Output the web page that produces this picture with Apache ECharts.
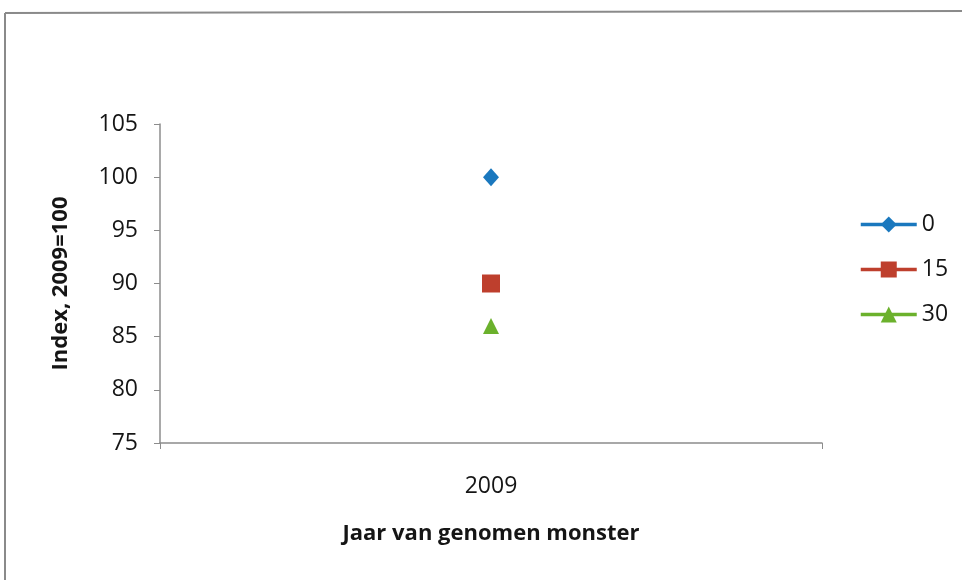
<!DOCTYPE html>
<html>
<head>
<meta charset="utf-8">
<script src="https://cdn.jsdelivr.net/npm/echarts@6/dist/echarts.min.js"></script>
<style>
  html, body { margin: 0; padding: 0; background: #fff; }
  #chart { width: 962px; height: 580px; }
</style>
</head>
<body>
<div id="chart"></div>
<script>
// Sample year on the category axis
const years = ['2009'];
// Index values per series (2009 = 100)
const seriesNames = ['0', '15', '30'];
const values0 = [100];
const values15 = [90];
const values30 = [86];
// Value axis range and step
const yMin = 75;
const yMax = 105;
const yStep = 5;

const FONT = '"Open Sans", "Noto Sans", sans-serif';
const TEXT = '#151515';
const colors = ['#1a78be', '#be3f2d', '#6bb12c'];
const symbols = ['diamond', 'rect', 'triangle'];
const symbolSizes = [[16, 18], 18, 16];
const valueLists = [values0, values15, values30];

const chart = echarts.init(document.getElementById('chart'), null, { renderer: 'canvas' });

chart.setOption({
  backgroundColor: '#ffffff',
  animation: false,
  color: colors,
  textStyle: { fontFamily: FONT, color: TEXT },
  // outer chart frame
  graphic: [
    { type: 'line', shape: { x1: 5, y1: 13, x2: 962, y2: 11 }, style: { stroke: '#8a8a8a', lineWidth: 2 } },
    { type: 'line', shape: { x1: 5, y1: 13, x2: 5, y2: 580 }, style: { stroke: '#8a8a8a', lineWidth: 2 } }
  ],
  grid: { left: 160, right: 140, top: 124, bottom: 137, containLabel: false },
  legend: {
    orient: 'vertical',
    left: 859,
    top: 213,
    padding: 0,
    itemWidth: 56,
    itemHeight: 20,
    itemGap: 22,
    lineStyle: { width: 3.5 },
    textStyle: { fontFamily: FONT, fontSize: 23, color: TEXT },
    data: seriesNames
  },
  xAxis: {
    type: 'category',
    data: years,
    boundaryGap: true,
    name: 'Jaar van genomen monster',
    nameLocation: 'middle',
    nameGap: 80,
    nameTextStyle: { fontFamily: FONT, fontSize: 22, fontWeight: 'bold', color: TEXT },
    axisLine: { show: true, lineStyle: { color: '#8c8c8c', width: 1.5 } },
    axisTick: { show: true, length: 6, lineStyle: { color: '#8c8c8c' } },
    axisLabel: { fontFamily: FONT, fontSize: 23, color: TEXT, margin: 32 },
    splitLine: { show: false }
  },
  yAxis: {
    type: 'value',
    min: yMin,
    max: yMax,
    interval: yStep,
    name: 'Index, 2009=100',
    nameLocation: 'middle',
    nameGap: 88,
    nameRotate: 90,
    nameTextStyle: { fontFamily: FONT, fontSize: 22, fontWeight: 'bold', color: TEXT },
    axisLine: { show: true, lineStyle: { color: '#8c8c8c', width: 1.5 } },
    axisTick: { show: true, inside: false, length: 6, lineStyle: { color: '#8c8c8c' } },
    axisLabel: { fontFamily: FONT, fontSize: 23, color: TEXT, margin: 22 },
    splitLine: { show: false }
  },
  series: seriesNames.map((name, i) => ({
    name: name,
    type: 'line',
    data: valueLists[i],
    symbol: symbols[i],
    symbolSize: symbolSizes[i],
    showSymbol: true,
    lineStyle: { width: 3.5, color: colors[i] },
    itemStyle: { color: colors[i] },
    emphasis: { disabled: true }
  }))
});
</script>
</body>
</html>
